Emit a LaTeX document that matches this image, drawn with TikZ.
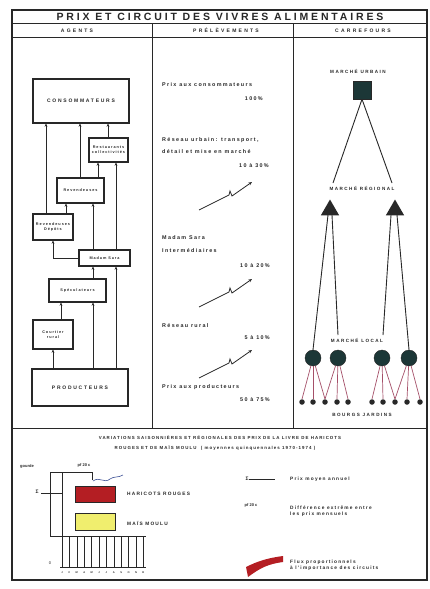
\documentclass[tikz,border=0pt]{standalone}
\usepackage{fontspec}
\setmainfont{Liberation Sans}
\usetikzlibrary{arrows.meta,shapes.geometric,calc}
\definecolor{ink}{RGB}{40,40,40}
\definecolor{darkteal}{RGB}{28,55,55}
\definecolor{rose}{RGB}{165,80,105}
\definecolor{brick}{RGB}{180,30,35}
\definecolor{lemon}{RGB}{240,238,110}
\definecolor{wave}{RGB}{60,80,150}
\tikzset{
  frame/.style={draw=ink,line width=1.2pt},
  rule/.style={draw=ink,line width=1pt},
  titletext/.style={font=\fontsize{10.5}{11}\selectfont\bfseries\addfontfeatures{LetterSpace=27},text=ink,inner sep=0},
  headtext/.style={font=\fontsize{5}{5}\selectfont\bfseries\addfontfeatures{LetterSpace=45},text=ink,inner sep=0},
  agentbox/.style={draw=ink,line width=1.1pt,fill=white,align=center,inner sep=1pt,
     font=\fontsize{3.8}{4.8}\selectfont\bfseries\addfontfeatures{LetterSpace=25},text=ink},
  bigbox/.style={agentbox,font=\fontsize{5}{5}\selectfont\bfseries\addfontfeatures{LetterSpace=35}},
  flow/.style={draw=ink,line width=0.8pt,-{Stealth[length=3.2pt,width=2.8pt]}},
  prtext/.style={font=\fontsize{5.4}{6}\selectfont\bfseries\addfontfeatures{LetterSpace=25},text=ink,inner sep=0,anchor=west},
  pctext/.style={font=\fontsize{5.4}{6}\selectfont\bfseries\addfontfeatures{LetterSpace=25},text=ink,inner sep=0,anchor=east},
  zig/.style={draw=ink,line width=0.8pt,-{Stealth[length=3.5pt,width=3pt]}},
  mtext/.style={font=\fontsize{4.6}{5}\selectfont\bfseries\addfontfeatures{LetterSpace=32},text=ink,inner sep=0},
  tline/.style={draw=ink,line width=0.9pt},
  pline/.style={draw=rose,line width=0.7pt},
  bdot/.style={circle,fill=ink,minimum size=5.5pt,inner sep=0},
  bcirc/.style={circle,fill=darkteal,draw=ink,minimum size=16pt,inner sep=0},
  ltext/.style={font=\fontsize{4.8}{6.2}\selectfont\bfseries\addfontfeatures{LetterSpace=25},text=ink,inner sep=0,anchor=west,align=left},
  tiny/.style={font=\fontsize{2.6}{3}\selectfont\bfseries,text=ink,inner sep=0},
  thin/.style={draw=ink,line width=0.6pt}
}
\begin{document}
\begin{tikzpicture}[x=1pt,y=-1pt]
\useasboundingbox (0,0) rectangle (429,589);
\fill[white] (0,0) rectangle (429,589);

% frame and grid
\draw[frame] (12,10) rectangle (427,580);
\draw[rule] (12,23) -- (427,23);
\draw[rule] (12,37) -- (427,37);
\draw[rule] (152,23) -- (152,428);
\draw[rule] (293,23) -- (293,428);
\draw[rule] (12,428) -- (427,428);

\node[titletext] (title) at (220,17) {PRIX ET CIRCUIT DES VIVRES ALIMENTAIRES};
\node[headtext] (hagents) at (77,30.5) {AGENTS};
\node[headtext] (hprel) at (226,30.5) {PRÉLÈVEMENTS};
\node[headtext] (hcarr) at (363,30.5) {CARREFOURS};

% ---------- Agents
\node[bigbox,minimum width=96pt,minimum height=44pt] (cons) at (81,101) {CONSOMMATEURS};
\node[agentbox,minimum width=39pt,minimum height=24pt] (rest) at (108.5,150) {Restaurants\\collectivités};
\node[agentbox,minimum width=47pt,minimum height=25pt] (rev) at (80.5,190.5) {Revendeuses};
\node[agentbox,minimum width=40pt,minimum height=26pt] (revd) at (53,227) {Revendeuses\\Dépôts};
\node[agentbox,minimum width=51pt,minimum height=16pt] (sara) at (104.5,258) {Madam Sara};
\node[agentbox,minimum width=57pt,minimum height=23pt] (spec) at (77.5,290.5) {Spéculateurs};
\node[agentbox,minimum width=40pt,minimum height=29pt] (court) at (53,334.5) {Courtier\\rural};
\node[bigbox,minimum width=96pt,minimum height=37pt] (prod) at (80,387.5) {PRODUCTEURS};

\coordinate (x46) at (46,0);
\coordinate (x61) at (61,0);
\coordinate (x66) at (66,0);
\coordinate (x80) at (80,0);
\coordinate (x93) at (93,0);
\coordinate (x98) at (98,0);
\coordinate (x108) at (108,0);
\coordinate (x116) at (116,0);

\draw[flow] (revd.north -| x46) -- (cons.south -| x46);
\draw[flow] (rev.north -| x80) -- (cons.south -| x80);
\draw[flow] (rest.north -| x108) -- (cons.south -| x108);
\draw[flow] (rev.north -| x98) -- (rest.south -| x98);
\draw[flow] (sara.north -| x116) -- (rest.south -| x116);
\draw[flow] (revd.north -| x66) -- (rev.south -| x66);
\draw[flow] (sara.north -| x93) -- (rev.south -| x93);
\draw[flow] (sara.west) -| (revd.south);
\draw[flow] (spec.north -| x93) -- (sara.south -| x93);
\draw[flow] (prod.north -| x116) -- (sara.south -| x116);
\draw[flow] (court.north -| x61) -- (spec.south -| x61);
\draw[flow] (prod.north -| x93) -- (spec.south -| x93);
\draw[flow] (prod.north -| court.south) -- (court.south);

% ---------- Prelevements
\node[prtext] (p1) at (162,85) {Prix aux consommateurs};
\node[pctext] (p1v) at (263,99) {100\%};
\node[prtext] (p2a) at (162,140) {Réseau urbain: transport,};
\node[prtext] (p2b) at (162,152) {détail et mise en marché};
\node[pctext] (p2v) at (269,166) {10 à 30\%};
\node[prtext] (p3a) at (162,238) {Madam Sara};
\node[prtext] (p3b) at (162,251) {Intermédiaires};
\node[pctext] (p3v) at (270,266) {10 à 20\%};
\node[prtext] (p4) at (162,326) {Réseau rural};
\node[pctext] (p4v) at (270,338) {5 à 10\%};
\node[prtext] (p5) at (162,387) {Prix aux producteurs};
\node[pctext] (p5v) at (270,400) {50 à 75\%};

\foreach \i/\y in {1/210,2/307,3/378}{
  \coordinate (zs\i) at (199,\y);
  \coordinate (ze\i) at (252,\y-28);
  \draw[zig] (zs\i) -- ($(zs\i)+(30,-15)$) -- ($(zs\i)+(31,-19)$) -- ($(zs\i)+(33,-14)$) -- (ze\i);
}

% ---------- Carrefours
\node[mtext] (murb) at (358,71) {MARCHÉ URBAIN};
\node[fill=darkteal,draw=ink,minimum size=18pt,inner sep=0] (sq) at (362,90) {};
\node[mtext] (mreg) at (362,188) {MARCHÉ RÉGIONAL};
\node[regular polygon,regular polygon sides=3,fill=ink,minimum size=21pt,inner sep=0] (tl) at (330,210) {};
\node[regular polygon,regular polygon sides=3,fill=ink,minimum size=21pt,inner sep=0] (tr) at (395,210) {};
\coordinate (rl) at (333,183);
\coordinate (rr) at (392,183);
\draw[tline] (sq.south) -- (rl);
\draw[tline] (sq.south) -- (rr);

\node[mtext] (mloc) at (357,340) {MARCHÉ LOCAL};
\node[bcirc] (c1) at (313,358) {};
\node[bcirc] (c2) at (338,358) {};
\node[bcirc] (c3) at (382,358) {};
\node[bcirc] (c4) at (409,358) {};
\coordinate (l2) at (338,335);
\coordinate (l3) at (383,335);
\coordinate (tl1) at (328,215);
\coordinate (tl2) at (332,215);
\coordinate (tr1) at (391,215);
\coordinate (tr2) at (397,215);
\draw[tline] (tl1) -- (c1.north);
\draw[tline] (tl2) -- (l2);
\draw[tline] (tr1) -- (l3);
\draw[tline] (tr2) -- (c4.north);

\foreach \n/\x in {1/302,2/313,3/325,4/337,5/348,6/372,7/383,8/395,9/407,10/420}{
  \node[bdot] (d\n) at (\x,402) {};
}
\foreach \c/\a/\b/\d in {c1/d1/d2/d3,c2/d3/d4/d5,c3/d6/d7/d8,c4/d8/d9/d10}{
  \draw[pline] (\c) -- (\a.north);
  \draw[pline] (\c) -- (\b.north);
  \draw[pline] (\c) -- (\d.north);
}
\node[mtext] (bj) at (362,415) {BOURGS JARDINS};

% ---------- Bottom section
\node[mtext,font=\fontsize{4.4}{5}\selectfont\bfseries\addfontfeatures{LetterSpace=24}] (bt1) at (220,438) {VARIATIONS SAISONNIÈRES ET RÉGIONALES DES PRIX DE LA LIVRE DE HARICOTS};
\node[mtext,font=\fontsize{4.4}{5}\selectfont\bfseries\addfontfeatures{LetterSpace=24}] (bt2) at (215,448) {ROUGES ET DE MAÏS MOULU \ ( moyennes quinquennales 1970-1974 )};

\node[tiny,font=\fontsize{4}{4}\selectfont\bfseries] (gourde) at (27,466) {gourde};
\node[tiny,font=\fontsize{4}{4}\selectfont\bfseries] (pf) at (84,465) {pf 20 c};
\draw[thin] (50,472) -- (92,472) -- (92,480);
\draw[thin] (50,472) -- (50,536) -- (90,536);
\draw[thin] (62,472) -- (62,536);
\draw[draw=wave,line width=0.6pt] (93,481) .. controls (100,476) and (104,484) .. (110,479) .. controls (114,476) and (118,478) .. (123,475);
\node[tiny,font=\fontsize{5}{5}\selectfont\bfseries] (sig) at (37,492) {Σ};
\draw[thin] (41,493) -- (62,493);
\node[draw=ink,fill=brick,line width=0.8pt,minimum width=40pt,minimum height=16pt,inner sep=0] (red) at (95,494) {};
\node[ltext] (hr) at (127,494) {HARICOTS ROUGES};
\node[draw=ink,fill=lemon,line width=0.8pt,minimum width=40pt,minimum height=17pt,inner sep=0] (yel) at (95,521.5) {};
\node[ltext] (mm) at (127,523) {MAÏS MOULU};

\foreach \i/\m in {0/J,1/F,2/M,3/A,4/M,5/J,6/J,7/A,8/S,9/O,10/N,11/D}{
  \draw[thin] (62+7.4*\i,536) -- (62+7.4*\i,567);
  \node[tiny] at (62+7.4*\i,573) {\m};
}
\draw[thin] (90,536) -- (146,536);
\draw[thin] (60,567) -- (146,567);
\node[tiny,font=\fontsize{4}{4}\selectfont] (zero) at (50,563) {0};

% legend right
\node[tiny,font=\fontsize{5}{5}\selectfont\bfseries] (sig2) at (247,479) {Σ};
\coordinate (sl) at (275,479);
\draw[thin] (sig2.east) -- (sl);
\node[ltext] (lg1) at (290,479) {Prix moyen annuel};
\node[tiny,font=\fontsize{4}{4}\selectfont\bfseries] (pf2) at (251,505) {pf 20 c};
\node[ltext] (lg2) at (290,511) {Différence extrême entre\\les prix mensuels};
\fill[brick] (246,567) .. controls (258,561) and (268,558) .. (283,556) -- (283,562) .. controls (268,564) and (260,568) .. (248,577) -- cycle;
\node[ltext] (lg3) at (290,565.5) {Flux proportionnels\\à l'importance des circuits};
\end{tikzpicture}
\end{document}
